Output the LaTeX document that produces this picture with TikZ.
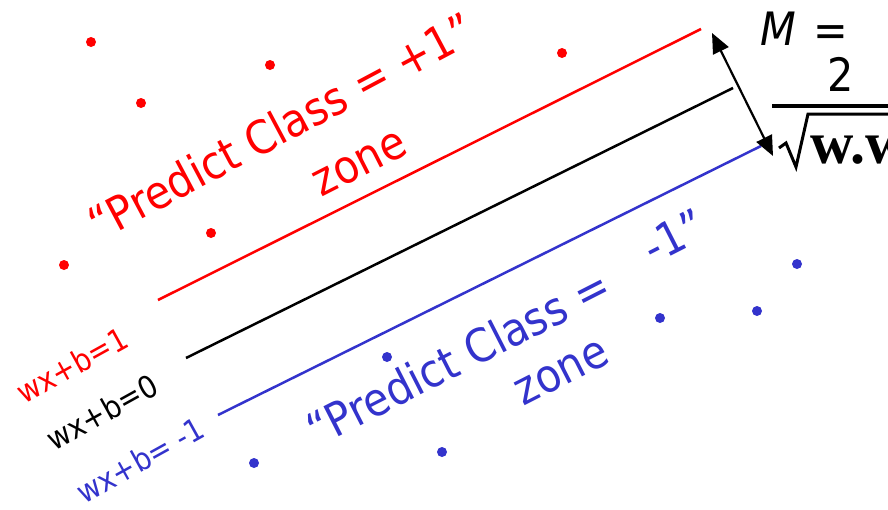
\documentclass[tikz,border=0pt]{standalone}
\usepackage{fontspec}
\setmainfont{DejaVu Sans}[FakeStretch=0.9]
\newfontfamily\wwfont{Liberation Serif}
\usetikzlibrary{arrows.meta}
\definecolor{posred}{RGB}{255,0,0}
\definecolor{negblue}{RGB}{51,51,204}
\tikzset{
  bigtxt/.style={font=\fontsize{46}{50}\selectfont, inner sep=0pt, rotate=27},
  smalltxt/.style={font=\fontsize{31}{34}\selectfont, inner sep=0pt, rotate=29},
  hyper/.style={line width=2.5pt},
  posdot/.style={circle, fill=posred, inner sep=0pt, minimum size=10pt},
  negdot/.style={circle, fill=negblue, inner sep=0pt, minimum size=10pt},
}
\begin{document}
\begin{tikzpicture}[x=1pt,y=-1pt]
\useasboundingbox (0,0) rectangle (888,509);
% hyperplanes
\coordinate (r1) at (158,300); \coordinate (r2) at (701,29);
\coordinate (k1) at (186,358); \coordinate (k2) at (733,88);
\coordinate (b1) at (218,415); \coordinate (b2) at (761,146);
\draw[hyper, posred] (r1) -- (r2);
\draw[hyper, black] (k1) -- (k2);
\draw[hyper, negblue] (b1) -- (b2);
% margin arrow
\coordinate (mtop) at (712,33);
\coordinate (mbot) at (773,156);
\draw[line width=2.2pt, {Triangle[length=20pt,width=17pt]}-{Triangle[length=20pt,width=17pt]}] (mtop) -- (mbot);
% formula
\node[font=\fontsize{46}{50}\selectfont\itshape, inner sep=0pt] (m) at (778,29) {M};
\node[font=\fontsize{46}{50}\selectfont, inner sep=0pt] (eq) at (831,36) {=};
\node[font=\fontsize{46}{50}\selectfont, inner sep=0pt] (two) at (841,74) {2};
\coordinate (barL) at (772,106); \coordinate (barR) at (920,106);
\draw[line width=4pt] (barL) -- (barR);
\coordinate (s1) at (779,148); \coordinate (s2) at (786,143);
\coordinate (s3) at (796,167); \coordinate (s4) at (808,114); \coordinate (s5) at (920,114);
\draw[line width=3pt, line join=miter] (s1) -- (s2) -- (s3) -- (s4) -- (s5);
\node[font=\fontsize{60}{64}\selectfont\wwfont\bfseries, anchor=base west, inner sep=0pt] (ww) at (810,163) {w.w};
% labels
\node[smalltxt, posred] (lp) at (72,365) {wx+b=1};
\node[smalltxt, black] (l0) at (102,412) {wx+b=0};
\node[smalltxt, negblue] (ln) at (140,460) {wx+b= -1};
\node[bigtxt, posred, rotate=1] (pz1) at (281,126) {“Predict Class = +1”};
\node[bigtxt, posred] (pz2) at (360,164) {zone};
\node[bigtxt, negblue] (nz1) at (458,357) {“Predict Class =};
\node[bigtxt, negblue] (nz1b) at (674,236) {-1”};
\node[bigtxt, negblue] (nz2) at (562,373) {zone};
% data points
\foreach \p/\xy in {a/{91,42},b/{270,65},c/{141,103},d/{562,53},e/{211,233},f/{64,265}}
  \node[posdot] (p\p) at (\xy) {};
\foreach \p/\xy in {a/{797,264},b/{757,311},c/{660,318},d/{387,357},e/{254,463},f/{442,452}}
  \node[negdot] (n\p) at (\xy) {};
\end{tikzpicture}
\end{document}
